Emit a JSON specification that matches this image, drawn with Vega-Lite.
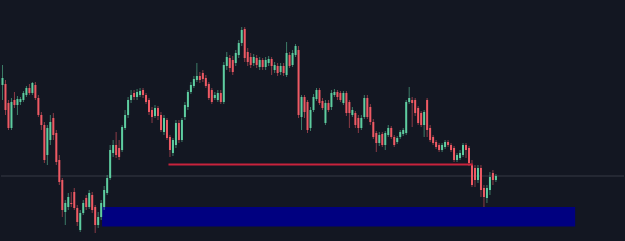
{
  "$schema": "https://vega.github.io/schema/vega-lite/v6.json",
  "width": 625,
  "height": 241,
  "autosize": {"type": "fit", "contains": "padding"},
  "padding": 0,
  "background": "#131722",
  "config": {"view": {"stroke": null}},
  "datasets": {
    "candles": [
      {"t":0,"o":85,"h":65,"l":100,"c":78},
      {"t":1,"o":84,"h":80,"l":115,"c":110},
      {"t":2,"o":103,"h":100,"l":130,"c":128},
      {"t":3,"o":128,"h":98,"l":130,"c":102},
      {"t":4,"o":100,"h":92,"l":108,"c":105},
      {"t":5,"o":105,"h":96,"l":115,"c":99},
      {"t":6,"o":102,"h":97,"l":105,"c":99},
      {"t":7,"o":100,"h":91,"l":102,"c":93},
      {"t":8,"o":95,"h":86,"l":97,"c":88},
      {"t":9,"o":88,"h":84,"l":95,"c":93},
      {"t":10,"o":93,"h":82,"l":95,"c":83},
      {"t":11,"o":85,"h":82,"l":100,"c":98},
      {"t":12,"o":98,"h":95,"l":117,"c":115},
      {"t":13,"o":115,"h":112,"l":130,"c":125},
      {"t":14,"o":125,"h":122,"l":163,"c":160},
      {"t":15,"o":155,"h":125,"l":165,"c":128},
      {"t":16,"o":140,"h":115,"l":145,"c":122},
      {"t":17,"o":118,"h":113,"l":140,"c":135},
      {"t":18,"o":133,"h":130,"l":165,"c":162},
      {"t":19,"o":160,"h":155,"l":185,"c":182},
      {"t":20,"o":180,"h":178,"l":217,"c":210},
      {"t":21,"o":212,"h":200,"l":225,"c":203},
      {"t":22,"o":207,"h":193,"l":210,"c":197},
      {"t":23,"o":203,"h":192,"l":207,"c":204},
      {"t":24,"o":192,"h":188,"l":210,"c":208},
      {"t":25,"o":208,"h":205,"l":226,"c":222},
      {"t":26,"o":230,"h":210,"l":232,"c":213},
      {"t":27,"o":213,"h":200,"l":215,"c":203},
      {"t":28,"o":198,"h":195,"l":210,"c":207},
      {"t":29,"o":207,"h":190,"l":209,"c":193},
      {"t":30,"o":195,"h":192,"l":213,"c":210},
      {"t":31,"o":207,"h":205,"l":233,"c":225},
      {"t":32,"o":225,"h":212,"l":228,"c":217},
      {"t":33,"o":217,"h":200,"l":220,"c":203},
      {"t":34,"o":207,"h":186,"l":210,"c":190},
      {"t":35,"o":193,"h":175,"l":195,"c":178},
      {"t":36,"o":178,"h":145,"l":180,"c":150},
      {"t":37,"o":153,"h":140,"l":157,"c":145},
      {"t":38,"o":145,"h":132,"l":158,"c":155},
      {"t":39,"o":148,"h":140,"l":160,"c":157},
      {"t":40,"o":150,"h":125,"l":152,"c":127},
      {"t":41,"o":128,"h":110,"l":130,"c":115},
      {"t":42,"o":115,"h":97,"l":118,"c":100},
      {"t":43,"o":100,"h":90,"l":103,"c":95},
      {"t":44,"o":93,"h":90,"l":100,"c":97},
      {"t":45,"o":97,"h":89,"l":100,"c":92},
      {"t":46,"o":95,"h":88,"l":97,"c":91},
      {"t":47,"o":90,"h":88,"l":98,"c":95},
      {"t":48,"o":95,"h":93,"l":104,"c":102},
      {"t":49,"o":100,"h":98,"l":115,"c":112},
      {"t":50,"o":110,"h":107,"l":123,"c":117},
      {"t":51,"o":116,"h":105,"l":118,"c":108},
      {"t":52,"o":108,"h":106,"l":120,"c":116},
      {"t":53,"o":115,"h":112,"l":132,"c":130},
      {"t":54,"o":132,"h":115,"l":135,"c":118},
      {"t":55,"o":120,"h":118,"l":140,"c":138},
      {"t":56,"o":137,"h":135,"l":157,"c":150},
      {"t":57,"o":153,"h":138,"l":156,"c":140},
      {"t":58,"o":145,"h":120,"l":148,"c":123},
      {"t":59,"o":123,"h":120,"l":143,"c":140},
      {"t":60,"o":140,"h":118,"l":142,"c":120},
      {"t":61,"o":117,"h":102,"l":120,"c":105},
      {"t":62,"o":107,"h":90,"l":110,"c":92},
      {"t":63,"o":92,"h":82,"l":94,"c":85},
      {"t":64,"o":86,"h":76,"l":88,"c":79},
      {"t":65,"o":80,"h":63,"l":82,"c":76},
      {"t":66,"o":76,"h":72,"l":83,"c":80},
      {"t":67,"o":73,"h":70,"l":82,"c":79},
      {"t":68,"o":78,"h":75,"l":88,"c":86},
      {"t":69,"o":84,"h":82,"l":100,"c":98},
      {"t":70,"o":90,"h":88,"l":104,"c":102},
      {"t":71,"o":98,"h":92,"l":100,"c":95},
      {"t":72,"o":100,"h":90,"l":102,"c":93},
      {"t":73,"o":93,"h":90,"l":104,"c":102},
      {"t":74,"o":102,"h":62,"l":104,"c":65},
      {"t":75,"o":66,"h":52,"l":70,"c":57},
      {"t":76,"o":58,"h":55,"l":72,"c":68},
      {"t":77,"o":60,"h":56,"l":75,"c":72},
      {"t":78,"o":63,"h":50,"l":66,"c":53},
      {"t":79,"o":55,"h":40,"l":58,"c":43},
      {"t":80,"o":43,"h":27,"l":46,"c":30},
      {"t":81,"o":29,"h":27,"l":62,"c":58},
      {"t":82,"o":52,"h":48,"l":66,"c":62},
      {"t":83,"o":57,"h":53,"l":68,"c":65},
      {"t":84,"o":63,"h":54,"l":66,"c":57},
      {"t":85,"o":58,"h":55,"l":68,"c":65},
      {"t":86,"o":67,"h":57,"l":70,"c":60},
      {"t":87,"o":60,"h":58,"l":70,"c":67},
      {"t":88,"o":67,"h":57,"l":70,"c":60},
      {"t":89,"o":63,"h":56,"l":66,"c":59},
      {"t":90,"o":59,"h":57,"l":75,"c":66},
      {"t":91,"o":70,"h":62,"l":73,"c":65},
      {"t":92,"o":66,"h":63,"l":76,"c":73},
      {"t":93,"o":72,"h":63,"l":75,"c":66},
      {"t":94,"o":66,"h":63,"l":76,"c":73},
      {"t":95,"o":75,"h":42,"l":77,"c":53},
      {"t":96,"o":55,"h":52,"l":68,"c":66},
      {"t":97,"o":65,"h":50,"l":67,"c":53},
      {"t":98,"o":55,"h":44,"l":57,"c":46},
      {"t":99,"o":50,"h":46,"l":118,"c":115},
      {"t":100,"o":117,"h":95,"l":130,"c":97},
      {"t":101,"o":97,"h":95,"l":118,"c":112},
      {"t":102,"o":102,"h":100,"l":133,"c":130},
      {"t":103,"o":128,"h":107,"l":131,"c":110},
      {"t":104,"o":110,"h":94,"l":112,"c":97},
      {"t":105,"o":99,"h":88,"l":101,"c":90},
      {"t":106,"o":90,"h":88,"l":105,"c":103},
      {"t":107,"o":101,"h":98,"l":110,"c":108},
      {"t":108,"o":123,"h":100,"l":125,"c":103},
      {"t":109,"o":103,"h":100,"l":112,"c":110},
      {"t":110,"o":107,"h":90,"l":110,"c":93},
      {"t":111,"o":95,"h":89,"l":97,"c":92},
      {"t":112,"o":92,"h":90,"l":100,"c":97},
      {"t":113,"o":93,"h":91,"l":102,"c":100},
      {"t":114,"o":103,"h":91,"l":105,"c":93},
      {"t":115,"o":93,"h":91,"l":116,"c":113},
      {"t":116,"o":102,"h":100,"l":128,"c":113},
      {"t":117,"o":115,"h":107,"l":117,"c":110},
      {"t":118,"o":113,"h":111,"l":128,"c":125},
      {"t":119,"o":118,"h":115,"l":133,"c":128},
      {"t":120,"o":128,"h":115,"l":130,"c":118},
      {"t":121,"o":117,"h":95,"l":119,"c":98},
      {"t":122,"o":98,"h":95,"l":119,"c":117},
      {"t":123,"o":107,"h":104,"l":125,"c":122},
      {"t":124,"o":122,"h":119,"l":139,"c":137},
      {"t":125,"o":133,"h":131,"l":152,"c":143},
      {"t":126,"o":143,"h":132,"l":146,"c":135},
      {"t":127,"o":134,"h":132,"l":147,"c":145},
      {"t":128,"o":145,"h":131,"l":150,"c":133},
      {"t":129,"o":135,"h":125,"l":137,"c":128},
      {"t":130,"o":128,"h":126,"l":139,"c":137},
      {"t":131,"o":137,"h":135,"l":147,"c":145},
      {"t":132,"o":142,"h":136,"l":144,"c":138},
      {"t":133,"o":137,"h":130,"l":139,"c":132},
      {"t":134,"o":134,"h":128,"l":136,"c":130},
      {"t":135,"o":133,"h":100,"l":135,"c":102},
      {"t":136,"o":102,"h":87,"l":104,"c":98},
      {"t":137,"o":100,"h":97,"l":127,"c":103},
      {"t":138,"o":100,"h":98,"l":116,"c":113},
      {"t":139,"o":108,"h":106,"l":125,"c":123},
      {"t":140,"o":113,"h":111,"l":127,"c":125},
      {"t":141,"o":125,"h":110,"l":137,"c":112},
      {"t":142,"o":100,"h":98,"l":137,"c":130},
      {"t":143,"o":128,"h":125,"l":142,"c":140},
      {"t":144,"o":137,"h":135,"l":145,"c":143},
      {"t":145,"o":142,"h":140,"l":149,"c":147},
      {"t":146,"o":145,"h":143,"l":152,"c":150},
      {"t":147,"o":150,"h":143,"l":152,"c":145},
      {"t":148,"o":147,"h":140,"l":149,"c":142},
      {"t":149,"o":142,"h":140,"l":147,"c":145},
      {"t":150,"o":145,"h":143,"l":152,"c":150},
      {"t":151,"o":148,"h":146,"l":162,"c":160},
      {"t":152,"o":160,"h":153,"l":162,"c":155},
      {"t":153,"o":158,"h":150,"l":160,"c":153},
      {"t":154,"o":155,"h":143,"l":157,"c":145},
      {"t":155,"o":145,"h":143,"l":158,"c":150},
      {"t":156,"o":148,"h":146,"l":166,"c":163},
      {"t":157,"o":165,"h":160,"l":187,"c":185},
      {"t":158,"o":168,"h":165,"l":187,"c":180},
      {"t":159,"o":180,"h":165,"l":183,"c":168},
      {"t":160,"o":168,"h":165,"l":197,"c":190},
      {"t":161,"o":188,"h":185,"l":207,"c":197},
      {"t":162,"o":198,"h":185,"l":203,"c":188},
      {"t":163,"o":190,"h":172,"l":195,"c":177},
      {"t":164,"o":173,"h":170,"l":185,"c":180},
      {"t":165,"o":180,"h":174,"l":182,"c":176}
    ],
    "zone": [{"t1": 33.3, "t2": 191.5, "top": 207, "bottom": 226.5}],
    "level": [{"t1": 55.5, "t2": 157.3, "p": 164.5}],
    "ref": [{"p": 176}]
  },
  "layer": [
    {
      "data": {"name": "ref"},
      "mark": {"type": "rule", "color": "#363a45", "strokeWidth": 1},
      "encoding": {
        "y": {"field": "p", "type": "quantitative", "scale": {"domain": [0, 241], "reverse": true, "nice": false, "zero": false, "padding": 0}, "axis": null}
      }
    },
    {
      "data": {"name": "zone"},
      "mark": {"type": "rect", "color": "#000080"},
      "encoding": {
        "x": {"field": "t1", "type": "quantitative", "scale": {"domain": [-0.5, 207.83], "nice": false, "zero": false, "padding": 0}, "axis": null},
        "x2": {"field": "t2"},
        "y": {"field": "top", "type": "quantitative", "scale": {"domain": [0, 241], "reverse": true, "nice": false, "zero": false, "padding": 0}, "axis": null},
        "y2": {"field": "bottom"}
      }
    },
    {
      "data": {"name": "candles"},
      "mark": {"type": "rule", "strokeWidth": 1, "opacity": 0.55},
      "encoding": {
        "x": {"field": "t", "type": "quantitative", "scale": {"domain": [-0.5, 207.83], "nice": false, "zero": false, "padding": 0}, "axis": null},
        "y": {"field": "h", "type": "quantitative", "scale": {"domain": [0, 241], "reverse": true, "nice": false, "zero": false, "padding": 0}, "axis": null},
        "y2": {"field": "l"},
        "color": {"condition": {"test": "datum.c < datum.o", "value": "#5ecda0"}, "value": "#ef5a64"}
      }
    },
    {
      "data": {"name": "candles"},
      "mark": {"type": "bar", "width": 2},
      "encoding": {
        "x": {"field": "t", "type": "quantitative", "scale": {"domain": [-0.5, 207.83], "nice": false, "zero": false, "padding": 0}, "axis": null},
        "y": {"field": "o", "type": "quantitative", "scale": {"domain": [0, 241], "reverse": true, "nice": false, "zero": false, "padding": 0}, "axis": null},
        "y2": {"field": "c"},
        "color": {"condition": {"test": "datum.c < datum.o", "value": "#5ecda0"}, "value": "#ef5a64"}
      }
    },
    {
      "data": {"name": "level"},
      "mark": {"type": "rule", "color": "#c8233c", "strokeWidth": 2},
      "encoding": {
        "x": {"field": "t1", "type": "quantitative", "scale": {"domain": [-0.5, 207.83], "nice": false, "zero": false, "padding": 0}, "axis": null},
        "x2": {"field": "t2"},
        "y": {"field": "p", "type": "quantitative", "scale": {"domain": [0, 241], "reverse": true, "nice": false, "zero": false, "padding": 0}, "axis": null}
      }
    }
  ]
}
